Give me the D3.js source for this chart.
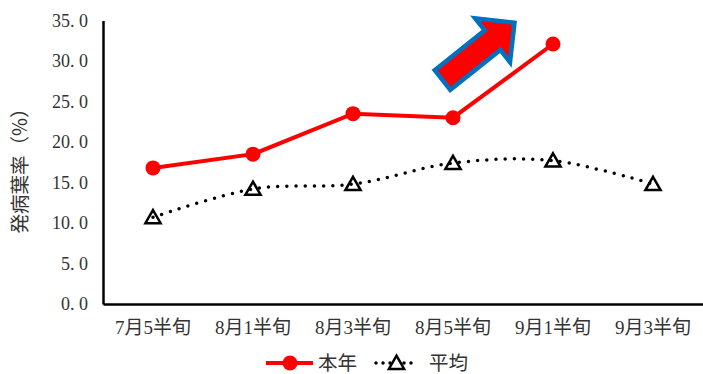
<!DOCTYPE html>
<html>
<head>
<meta charset="utf-8">
<script src="https://cdn.jsdelivr.net/npm/d3@7"></script>
<style>
  body { margin: 0; background: #fff; }
  svg { display: block; }
  text { font-family: "Liberation Serif", "Noto Sans CJK JP", serif; fill: #333; }
</style>
</head>
<body>
<svg id="chart" width="703" height="374"></svg>
<script>
const categories = ["7月5半旬", "8月1半旬", "8月3半旬", "8月5半旬", "9月1半旬", "9月3半旬"];
const thisYear = [16.8, 18.5, 23.5, 23.0, 32.1];
const average = [10.7, 14.2, 14.8, 17.4, 17.7, 14.8];
const yTicks = [0, 5, 10, 15, 20, 25, 30, 35];

const svg = d3.select("#chart");
const margin = { left: 103, right: 0, top: 20.5, bottom: 70 };
const width = +svg.attr("width");
const height = +svg.attr("height");

const x = d3.scaleBand()
    .domain(categories)
    .range([margin.left, width - margin.right]);

const y = d3.scaleLinear()
    .domain([0, 35])
    .range([height - margin.bottom, margin.top]);

const cx = d => x(d) + x.bandwidth() / 2;

// axes
const yAxis = svg.append("g")
    .attr("transform", `translate(${margin.left},0)`)
    .call(d3.axisLeft(y).tickValues(yTicks).tickSize(0).tickPadding(15)
        .tickFormat(d => d3.format(".1f")(d).replace(".", ". ")));
yAxis.select(".domain").attr("stroke", "#000").attr("stroke-width", 2.5);
yAxis.selectAll("text").attr("font-size", 18).attr("fill", "#333")
    .style("font-family", "'Liberation Serif', serif");

const xAxis = svg.append("g")
    .attr("transform", `translate(0,${y(0)})`)
    .call(d3.axisBottom(x).tickSize(0).tickPadding(17));
xAxis.select(".domain").attr("stroke", "#000").attr("stroke-width", 2.5);
xAxis.selectAll("text").attr("font-size", 19).attr("fill", "#333");

// y title
svg.append("text")
    .attr("transform", `translate(27,166) rotate(-90)`)
    .attr("text-anchor", "middle")
    .attr("font-size", 19.5)
    .style("font-family", "'Noto Sans CJK JP', sans-serif")
    .text("発病葉率（%）");

// average (dotted, smooth)
const avgLine = d3.line()
    .x((d, i) => cx(categories[i]))
    .y(d => y(d))
    .curve(d3.curveCardinal.tension(0));

svg.append("path")
    .datum(average)
    .attr("d", avgLine)
    .attr("fill", "none")
    .attr("stroke", "#000")
    .attr("stroke-width", 3.5)
    .attr("stroke-linecap", "round")
    .attr("stroke-dasharray", "0 9.2");

const tri = d3.symbol().type(d3.symbolTriangle).size(100);
svg.selectAll(".tri")
    .data(average)
    .enter().append("path")
    .attr("class", "tri")
    .attr("d", tri)
    .attr("transform", (d, i) => `translate(${cx(categories[i])},${y(d) + 1.5})`)
    .attr("fill", "none")
    .attr("stroke", "#000")
    .attr("stroke-width", 2.5);

// this year
const redLine = d3.line()
    .x((d, i) => cx(categories[i]))
    .y(d => y(d));

svg.append("path")
    .datum(thisYear)
    .attr("d", redLine)
    .attr("fill", "none")
    .attr("stroke", "#ff0000")
    .attr("stroke-width", 4);

svg.selectAll(".dot")
    .data(thisYear)
    .enter().append("circle")
    .attr("class", "dot")
    .attr("cx", (d, i) => cx(categories[i]))
    .attr("cy", d => y(d))
    .attr("r", 7.5)
    .attr("fill", "#ff0000");

// arrow
const arrowPts = [[0, -12.5], [64, -12.5], [64, -28], [92, 0], [64, 28], [64, 12.5], [0, 12.5]];
svg.append("path")
    .attr("d", "M" + arrowPts.join("L") + "Z")
    .attr("transform", "translate(442.5,80) rotate(-38.5)")
    .attr("fill", "#ff0000")
    .attr("stroke", "#0070c0")
    .attr("stroke-width", 4.5)
    .attr("stroke-linejoin", "miter");

// legend
const legY = 363;
const leg = svg.append("g");
leg.append("line")
    .attr("x1", 266).attr("x2", 313).attr("y1", legY).attr("y2", legY)
    .attr("stroke", "#ff0000").attr("stroke-width", 4);
leg.append("circle")
    .attr("cx", 290).attr("cy", legY).attr("r", 7.5).attr("fill", "#ff0000");
leg.append("text")
    .attr("x", 318).attr("y", legY).attr("dy", "0.36em")
    .attr("font-size", 19.5).text("本年");

leg.append("line")
    .attr("x1", 376).attr("x2", 417).attr("y1", legY).attr("y2", legY)
    .attr("stroke", "#000").attr("stroke-width", 3.5)
    .attr("stroke-linecap", "round").attr("stroke-dasharray", "0 7");
leg.append("path")
    .attr("d", tri)
    .attr("transform", `translate(396.5,${legY + 1.5})`)
    .attr("fill", "#fff").attr("stroke", "#000").attr("stroke-width", 2.5);
leg.append("text")
    .attr("x", 429).attr("y", legY).attr("dy", "0.36em")
    .attr("font-size", 19.5).text("平均");
</script>
</body>
</html>
